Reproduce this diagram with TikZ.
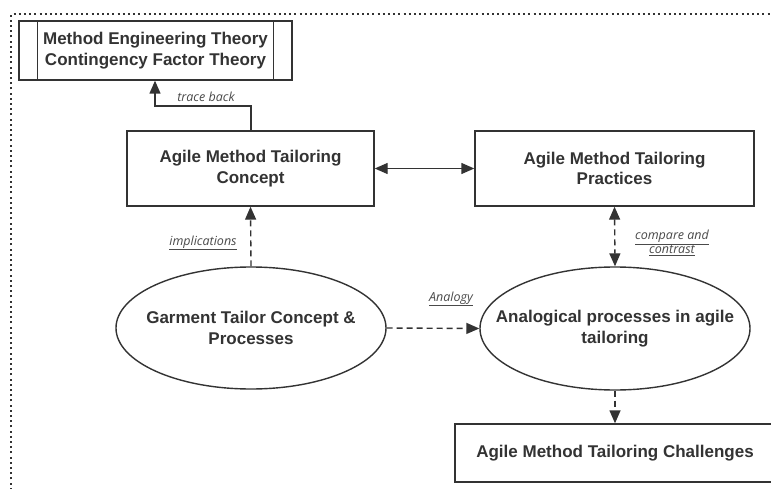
\documentclass[tikz,border=0pt]{standalone}
\usepackage{fontspec}
\setmainfont{Liberation Sans}
\newfontfamily\labelfont{Open Sans}
\usetikzlibrary{shapes.geometric,arrows.meta}
\definecolor{ink}{HTML}{333333}
\definecolor{lab}{HTML}{4A4A4A}
\tikzset{
  box/.style={draw=ink, line width=1.4pt, rectangle, inner sep=0pt, align=center,
    font=\fontsize{17}{20.5}\selectfont\bfseries, text=ink},
  oval/.style={draw=ink, line width=1.4pt, ellipse, inner sep=0pt},
  ovaltext/.style={inner sep=0pt, align=center,
    font=\fontsize{17}{20.5}\selectfont\bfseries, text=ink},
  conn/.style={draw=ink, line width=1.4pt, -{Triangle[length=13pt,width=11pt]}},
  dconn/.style={conn, dash pattern=on 6pt off 4pt},
  bothtips/.style={{Triangle[length=13pt,width=11pt]}-{Triangle[length=13pt,width=11pt]}},
  lbl/.style={font=\labelfont\itshape\fontsize{12.5}{15}\selectfont, text=lab, inner sep=1pt, align=center}
}
\begin{document}
\begin{tikzpicture}[x=1pt,y=-1pt]
\clip (0,0) rectangle (771,489);
\fill[white] (0,0) rectangle (771,489);
% dotted frame
\draw[ink, line width=1.3pt, dash pattern=on 2pt off 3.2pt] (11,495) -- (11,14) -- (780,14);

% nodes
\node[box, minimum width=273pt, minimum height=59pt] (theory) at (155.5,50.5)
  {Method Engineering Theory\\Contingency Factor Theory};
\draw[ink, line width=1.4pt] ([xshift=19pt]theory.north west) -- ([xshift=19pt]theory.south west);
\draw[ink, line width=1.4pt] ([xshift=-19pt]theory.north east) -- ([xshift=-19pt]theory.south east);

\node[box, minimum width=247pt, minimum height=75pt] (concept) at (250.5,168.5)
  {Agile Method Tailoring\\Concept};
\node[box, minimum width=279pt, minimum height=75pt] (practices) at (614.5,168.5)
  {Agile Method Tailoring\\Practices};
\node[oval, minimum width=270pt, minimum height=122pt] (garment) at (251,328) {};
\node[ovaltext] (garmenttext) at (garment.center) {Garment Tailor Concept \&\\Processes};
\node[oval, minimum width=270pt, minimum height=123pt] (analog) at (615,328.5) {};
\node[ovaltext] (analogtext) at (analog.center) {Analogical processes in agile\\tailoring};
\node[box, minimum width=320pt, minimum height=58pt] (challenges) at (615,453)
  {Agile Method Tailoring Challenges};

% connectors
\coordinate (tb1) at (251,106);
\coordinate (tb2) at (155,106);
\draw[conn] (concept.north -| tb1) -- (tb1) -- (tb2) -- (theory.south -| tb2);
\node[lbl] (tracelbl) at (206,97) {trace back};

\draw[conn, bothtips] (concept.east) -- (practices.west);

\draw[dconn] (garment.north) -- (concept.south);
\node[lbl] (implbl) at (203,243) {\underline{implications}};

\draw[dconn, bothtips] (practices.south) -- (analog.north);
\node[lbl] (cmplbl) at (672,243) {\underline{compare and}\\[-1pt]\underline{contrast}};

\draw[dconn] (garment.east) -- (analog.west);
\node[lbl] (anlbl) at (451,299) {\underline{Analogy}};

\draw[dconn] (analog.south) -- (challenges.north);
\end{tikzpicture}
\end{document}
